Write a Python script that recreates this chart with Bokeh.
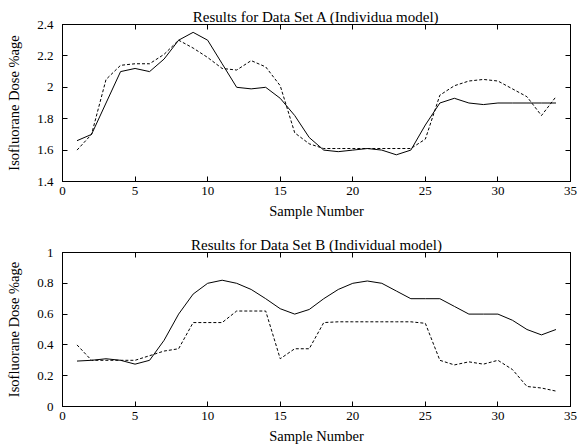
from bokeh.plotting import figure
from bokeh.models import LinearAxis, FixedTicker, CustomJSTickFormatter, Range1d, ColumnDataSource
from bokeh.layouts import column
from bokeh.embed import file_html
from bokeh.resources import INLINE

# ---- data ----
sample = list(range(1, 35))

a_solid = [1.66, 1.70, 1.90, 2.10, 2.12, 2.10, 2.18, 2.30, 2.35, 2.30,
           2.15, 2.00, 1.99, 2.00, 1.93, 1.82, 1.68, 1.60, 1.59, 1.60,
           1.61, 1.60, 1.57, 1.60, 1.76, 1.90, 1.93, 1.90, 1.89, 1.90,
           1.90, 1.90, 1.90, 1.90]
a_dashed = [1.60, 1.70, 2.05, 2.14, 2.15, 2.15, 2.21, 2.30, 2.25, 2.19,
            2.12, 2.11, 2.17, 2.13, 2.01, 1.71, 1.64, 1.61, 1.61, 1.61,
            1.61, 1.61, 1.61, 1.61, 1.67, 1.95, 2.01, 2.04, 2.05, 2.04,
            1.99, 1.94, 1.82, 1.94]

b_solid = [0.295, 0.30, 0.31, 0.30, 0.275, 0.30, 0.43, 0.60, 0.73, 0.80,
           0.82, 0.80, 0.76, 0.70, 0.635, 0.60, 0.63, 0.70, 0.76, 0.80,
           0.815, 0.80, 0.75, 0.70, 0.70, 0.70, 0.65, 0.60, 0.60, 0.60,
           0.56, 0.50, 0.465, 0.50]
b_dashed = [0.40, 0.30, 0.30, 0.30, 0.30, 0.33, 0.36, 0.375, 0.545, 0.545,
            0.545, 0.62, 0.62, 0.62, 0.31, 0.375, 0.375, 0.545, 0.55, 0.55,
            0.55, 0.55, 0.55, 0.55, 0.54, 0.30, 0.27, 0.29, 0.275, 0.30,
            0.24, 0.13, 0.12, 0.10]

x_ticks = [0, 5, 10, 15, 20, 25, 30, 35]
a_y_ticks = [1.4, 1.6, 1.8, 2.0, 2.2, 2.4]
b_y_ticks = [0, 0.2, 0.4, 0.6, 0.8, 1.0]

title_a = "Results for Data Set A (Individua model)"
title_b = "Results for Data Set B (Individual model)"
x_label = "Sample Number"
y_label = "Isofluorane Dose %age"

FONT = "Liberation Serif"
TICK_FS = "13px"
LABEL_FS = "14.5px"
TITLE_FS = "15px"

fmt = CustomJSTickFormatter(code="return tick.toString();")
blank = CustomJSTickFormatter(code="return '';")


def style_axis(ax, ticks, show_labels=True):
    ax.ticker = FixedTicker(ticks=ticks)
    ax.major_tick_in = 5
    ax.major_tick_out = 0
    ax.minor_tick_in = 0
    ax.minor_tick_out = 0
    ax.axis_line_color = "black"
    ax.major_tick_line_color = "black"
    ax.major_label_text_font = FONT
    ax.major_label_text_font_size = TICK_FS
    ax.major_label_text_color = "black"
    ax.axis_label_text_font = FONT
    ax.axis_label_text_font_style = "normal"
    ax.axis_label_text_font_size = LABEL_FS
    ax.axis_label_text_color = "black"
    if show_labels:
        ax.formatter = fmt
    else:
        ax.formatter = blank
        ax.major_label_standoff = 0


def make(title, xs, solid, dashed, yr, yticks, h, top, bottom):
    p = figure(width=577, height=h, output_backend="svg", toolbar_location=None,
               x_range=Range1d(0, 35), y_range=Range1d(*yr),
               min_border_left=62, min_border_right=7,
               min_border_top=top, min_border_bottom=bottom)
    p.title.text = title
    p.title.align = "center"
    p.title.text_font = FONT
    p.title.text_font_size = TITLE_FS
    p.title.text_font_style = "normal"
    p.title.text_color = "black"
    p.title.standoff = 0
    p.title.offset = 0
    p.grid.visible = False
    p.outline_line_color = "black"
    p.background_fill_color = "white"
    p.border_fill_color = "white"

    src = ColumnDataSource(dict(x=xs, s=solid, d=dashed))
    p.line("x", "s", source=src, line_color="black", line_width=1)
    p.line("x", "d", source=src, line_color="black", line_width=1, line_dash="3 2")

    style_axis(p.xaxis[0], x_ticks)
    style_axis(p.yaxis[0], yticks)
    p.xaxis[0].axis_label = x_label
    p.xaxis[0].major_label_standoff = 5
    p.xaxis[0].axis_label_standoff = 5
    p.yaxis[0].axis_label = y_label
    p.yaxis[0].major_label_standoff = 9
    p.yaxis[0].axis_label_standoff = 12

    top_ax = LinearAxis()
    style_axis(top_ax, x_ticks, show_labels=False)
    p.add_layout(top_ax, "above")
    right_ax = LinearAxis()
    style_axis(right_ax, yticks, show_labels=False)
    p.add_layout(right_ax, "right")
    return p


p1 = make(title_a, sample, a_solid, a_dashed, (1.4, 2.4), a_y_ticks, 230, 24, 49)
p2 = make(title_b, sample, b_solid, b_dashed, (0, 1), b_y_ticks, 218, 22, 42)

layout = column(p1, p2, spacing=0)
open("out.html", "w").write(file_html(layout, INLINE))
